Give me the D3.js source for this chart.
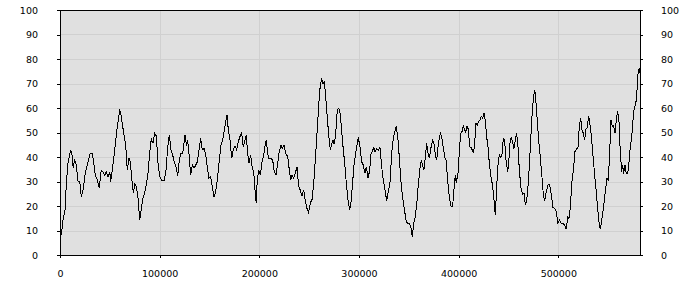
<!DOCTYPE html>
<html>
<head>
<meta charset="utf-8">
<script src="https://cdn.jsdelivr.net/npm/d3@7"></script>
<style>
  body { margin: 0; background: #fff; }
  svg { display: block; }
</style>
</head>
<body>
<div id="viz"></div>
<script>
// positions along the x axis
const xValues = [
    0, 1300, 3000, 5300, 6300, 8000, 10700, 12000, 13300, 14700, 16400, 18100, 19800, 21400, 23100, 25400,
    28100, 30400, 32400, 33800, 35400, 37400, 39400, 41400, 43100, 44900, 46500, 48200, 49900, 50900, 52500,
    54900, 57500, 59900, 60900, 63200, 65900, 67500, 69200, 70500, 72200, 73600, 75000, 76600, 78300, 80000,
    81600, 83300, 85000, 86600, 88300, 90000, 91600, 93300, 95000, 96600, 98600, 100300, 102000, 104700,
    106400, 108100, 109700, 111400, 113100, 114700, 116400, 118100, 119700, 121400, 123100, 125400, 127100,
    128100, 129700, 131100, 132800, 134500, 136200, 137800, 139500, 141200, 142800, 144500, 146200, 147800,
    149500, 151200, 152800, 154500, 156200, 157800, 159500, 161500, 163300, 164900, 166600, 167600, 168900,
    170600, 172300, 173900, 175600, 177300, 178900, 180600, 182300, 183900, 185600, 186900, 188300, 189600,
    191300, 193000, 194400, 195900, 196900, 197900, 199400, 201000, 202700, 204400, 206000, 207000, 208400,
    209400, 211000, 213400, 215000, 216700, 218400, 220000, 221700, 223100, 224800, 226500, 228500, 230100,
    231500, 232800, 234500, 236100, 237800, 239500, 241100, 242800, 244500, 246100, 247800, 249500, 251100,
    252900, 254600, 256200, 257900, 259600, 261200, 262600, 263900, 265200, 266600, 268200, 269900, 271200,
    272600, 273900, 275200, 276600, 277900, 279200, 280700, 282300, 284000, 285700, 287300, 289000, 290700,
    292300, 293300, 295000, 296700, 298300, 299300, 301000, 302700, 304300, 306000, 307400, 309100, 310800,
    312100, 313400, 314800, 316100, 317800, 319400, 321100, 322800, 324400, 326100, 327800, 329400, 331100,
    332800, 334400, 336100, 337400, 339200, 340900, 342500, 344200, 345900, 347500, 349200, 350900, 352200,
    353500, 354900, 356200, 357900, 359500, 361200, 362600, 363900, 365200, 366500, 367900, 369300, 370600,
    372300, 374000, 375300, 376600, 378000, 379300, 380600, 382000, 383300, 384600, 386300, 387300, 389000,
    390600, 392300, 394000, 395600, 396600, 397600, 399400, 400700, 402100, 403400, 404700, 406100, 407100,
    408400, 409700, 411100, 412400, 413700, 415100, 416400, 417400, 418700, 420100, 421400, 422700, 424100,
    425400, 426700, 428100, 429500, 430800, 432500, 434200, 435500, 436800, 438200, 439500, 440800, 442200,
    443500, 444800, 446200, 447500, 449200, 450200, 451500, 452800, 454200, 455500, 456800, 458200, 459600,
    460900, 462600, 464300, 465600, 466900, 468300, 469600, 470900, 472300, 473600, 474900, 476300, 477300,
    478600, 480300, 481900, 483600, 484900, 486300, 487900, 489700, 491400, 493000, 494700, 496400, 498000,
    499700, 501400, 503000, 504700, 506400, 508000, 509400, 510700, 512000, 513700, 515400, 516700, 518000,
    519800, 521100, 522500, 523800, 525100, 526500, 527800, 529100, 530500, 531800, 533100, 534800, 536500,
    538100, 539800, 541500, 542500, 543800, 545500, 547100, 548900, 550200, 551600, 552900, 554200, 555600,
    556900, 558200, 559600, 560900, 562200, 563600, 564600, 565600, 566900, 568300, 569700, 571000, 572300,
    573700, 575000, 576300, 577700, 579000, 580300, 581300, 582000
];

// series values
const yValues = [
    10.5, 8.2, 14.3, 19, 29, 37.5, 43, 41, 35.5, 39, 36.7, 30, 30, 23.7, 26.5, 33.4,
    38, 41.6, 41.6, 38, 32.6, 30.6, 27.3, 34.7, 34, 32.6, 34, 32, 34, 30, 34.7,
    42.9, 52.4, 58.9, 58, 51.7, 45, 34.7, 39.5, 38, 30.6, 25.3, 29, 28, 23.3, 14.3,
    19, 23.3, 25.3, 28.6, 33.4, 41.6, 47.3, 45.7, 49.7, 48.6, 36, 32, 30.6, 30.6,
    34.7, 44.2, 49, 42.9, 40.8, 37.7, 36, 32.2, 38.8, 41.5, 41.5, 49, 44.5,
    47, 40, 32.6, 36.7, 35.4, 36.7, 38, 42.9, 47.6, 42.9, 43.5, 40.8, 36,
    31.3, 32, 27.9, 23.8, 25.8, 30.6, 37.4, 44.9, 46.9, 51, 55.1, 57, 51,
    46.9, 39.5, 42.9, 44.5, 42.9, 46.3, 48.3, 50, 44, 46.9, 49, 41.5, 37.4,
    40.8, 35.5, 34, 25.2, 21.1, 30.6, 34.7, 32.6, 38, 40.8, 45.5, 47.1, 41.5,
    39.5, 39.5, 38.8, 34, 32.6, 37.4, 42.2, 44.9, 43.5, 44.9, 41.5, 40.1, 34.7,
    30.6, 32.6, 31.3, 33.4, 36, 27.9, 26.5, 24, 26.5, 22.4, 19, 17.3, 21.1,
    22.7, 29.3, 38.8, 49.7, 61.2, 69.4, 72.1, 70, 70.5, 64.9, 56, 47.9, 43.1,
    45.2, 46.8, 45.2, 49.3, 57.5, 59.9, 59.2, 52.4, 44.2, 37.4, 29.3, 22.4, 18.4,
    22.4, 27.9, 36.7, 41.5, 45.5, 48, 44.2, 38, 36.7, 33.4, 36, 31.3, 34.7,
    41.5, 42.2, 43.9, 42.2, 43.5, 42.6, 43.9, 36, 30.6, 26.5, 22.2, 25.8, 29.3,
    41.5, 47.6, 50.4, 52.7, 46.9, 37.4, 27.9, 22.4, 17.7, 13.6, 12.9, 12.9, 10.9,
    7.2, 12.9, 15, 20.4, 28.6, 35.4, 38.8, 36.3, 34.7, 39.5, 45.5, 41.7, 39.5,
    43.9, 46.9, 45.5, 40.8, 38.8, 43.9, 48, 49.7, 47.3, 43.9, 39.5, 39, 30.6,
    23.8, 20, 20, 27.9, 32.6, 29.5, 33.4, 42.2, 49.7, 50.4, 52.7, 51.3, 49.7,
    52.7, 51.3, 44.2, 43.9, 42.9, 41.5, 47.6, 53.8, 53.1, 54.4, 55.1, 56.7, 55.8,
    58.1, 55.1, 48.3, 44.2, 37.4, 32, 27.9, 22.4, 16.3, 27.9, 36.7, 40.8, 39.9,
    40.8, 47.6, 46.7, 38.8, 34, 37.4, 45.5, 48, 46.3, 43.5, 46.9, 49.7, 44.2,
    34.7, 27.2, 24.9, 25.2, 20.4, 22.4, 27.9, 36, 46.9, 56.5, 63.4, 67.5, 64.1,
    56.5, 46.9, 40.1, 32, 25.2, 21.9, 25.8, 28.6, 28.6, 24.5, 19.3, 19, 17.7,
    12.9, 14.3, 12.9, 12.9, 12.2, 10.5, 15.5, 14.8, 19, 29.9, 35.4, 42.2, 42.9,
    44.2, 52.4, 55.8, 51, 49.7, 46.9, 51.4, 51.9, 56.9, 53.1, 49, 40.8, 32.6,
    25.8, 17.7, 11.2, 10.9, 15, 19.7, 25.8, 31.3, 30.6, 42.2, 55.1, 52.4, 52.7,
    49.7, 55.1, 58.8, 54.4, 42.2, 34, 36.7, 33.2, 36.7, 33.2, 33.2, 38, 44.2,
    48.3, 55.1, 60.5, 61.2, 67.3, 75.7, 74.8, 76.2
];

const xTicks = [0, 100000, 200000, 300000, 400000, 500000];
const yTicks = [0, 10, 20, 30, 40, 50, 60, 70, 80, 90, 100];

const width = 700;
const height = 300;
const margin = { top: 10, right: 60, bottom: 45, left: 60 };

const bg = "#e0e0e0";
const gridColor = "#d0d0d0";
const font = "DejaVu Sans, sans-serif";

const data = xValues.map((x, i) => ({ x: x, y: yValues[i] }));

const svg = d3.select("#viz")
    .append("svg")
    .attr("width", width)
    .attr("height", height)
    .style("font-family", font);

const x = d3.scaleLinear()
    .domain([0, d3.max(xValues)])
    .range([margin.left, width - margin.right]);

const y = d3.scaleLinear()
    .domain([0, 100])
    .range([height - margin.bottom, margin.top]);

// plot background
svg.append("rect")
    .attr("x", margin.left)
    .attr("y", margin.top)
    .attr("width", width - margin.left - margin.right)
    .attr("height", height - margin.top - margin.bottom)
    .attr("fill", bg);

// grid
const grid = svg.append("g").attr("shape-rendering", "crispEdges");
grid.selectAll(".gx")
    .data(xTicks.slice(1))
    .join("line")
    .attr("x1", d => Math.round(x(d)) + 0.5)
    .attr("x2", d => Math.round(x(d)) + 0.5)
    .attr("y1", margin.top)
    .attr("y2", height - margin.bottom)
    .attr("stroke", gridColor);
grid.selectAll(".gy")
    .data(yTicks.slice(1, -1))
    .join("line")
    .attr("y1", d => Math.round(y(d)) + 0.5)
    .attr("y2", d => Math.round(y(d)) + 0.5)
    .attr("x1", margin.left)
    .attr("x2", width - margin.right)
    .attr("stroke", gridColor);

// the line
const line = d3.line()
    .x(d => x(d.x))
    .y(d => y(d.y));

svg.append("path")
    .datum(data)
    .attr("fill", "none")
    .attr("stroke", "#000")
    .attr("stroke-width", 1)
    .attr("shape-rendering", "crispEdges")
    .attr("d", line);

// axes
const xAxis = d3.axisBottom(x).tickValues(xTicks).tickFormat(d3.format("d")).tickSize(3).tickSizeOuter(0).tickPadding(12);
const yAxisL = d3.axisLeft(y).tickValues(yTicks).tickSize(3).tickSizeOuter(0).tickPadding(19);
const yAxisR = d3.axisRight(y).tickValues(yTicks).tickSize(3).tickSizeOuter(0).tickPadding(18);

svg.append("g")
    .attr("transform", `translate(0,${height - margin.bottom})`)
    .call(xAxis);
svg.append("g")
    .attr("transform", `translate(${margin.left},0)`)
    .call(yAxisL);
svg.append("g")
    .attr("transform", `translate(${width - margin.right},0)`)
    .call(yAxisR);

svg.selectAll(".tick text")
    .attr("fill", "#000")
    .style("font-family", font)
    .style("font-size", "9.5px");
svg.selectAll(".tick line").attr("stroke", "#000").attr("shape-rendering", "crispEdges");
svg.selectAll(".domain").attr("stroke", "none");

// frame
svg.append("rect")
    .attr("x", margin.left + 0.5)
    .attr("y", margin.top + 0.5)
    .attr("width", width - margin.left - margin.right)
    .attr("height", height - margin.top - margin.bottom)
    .attr("fill", "none")
    .attr("stroke", "#000")
    .attr("shape-rendering", "crispEdges");
</script>
</body>
</html>
